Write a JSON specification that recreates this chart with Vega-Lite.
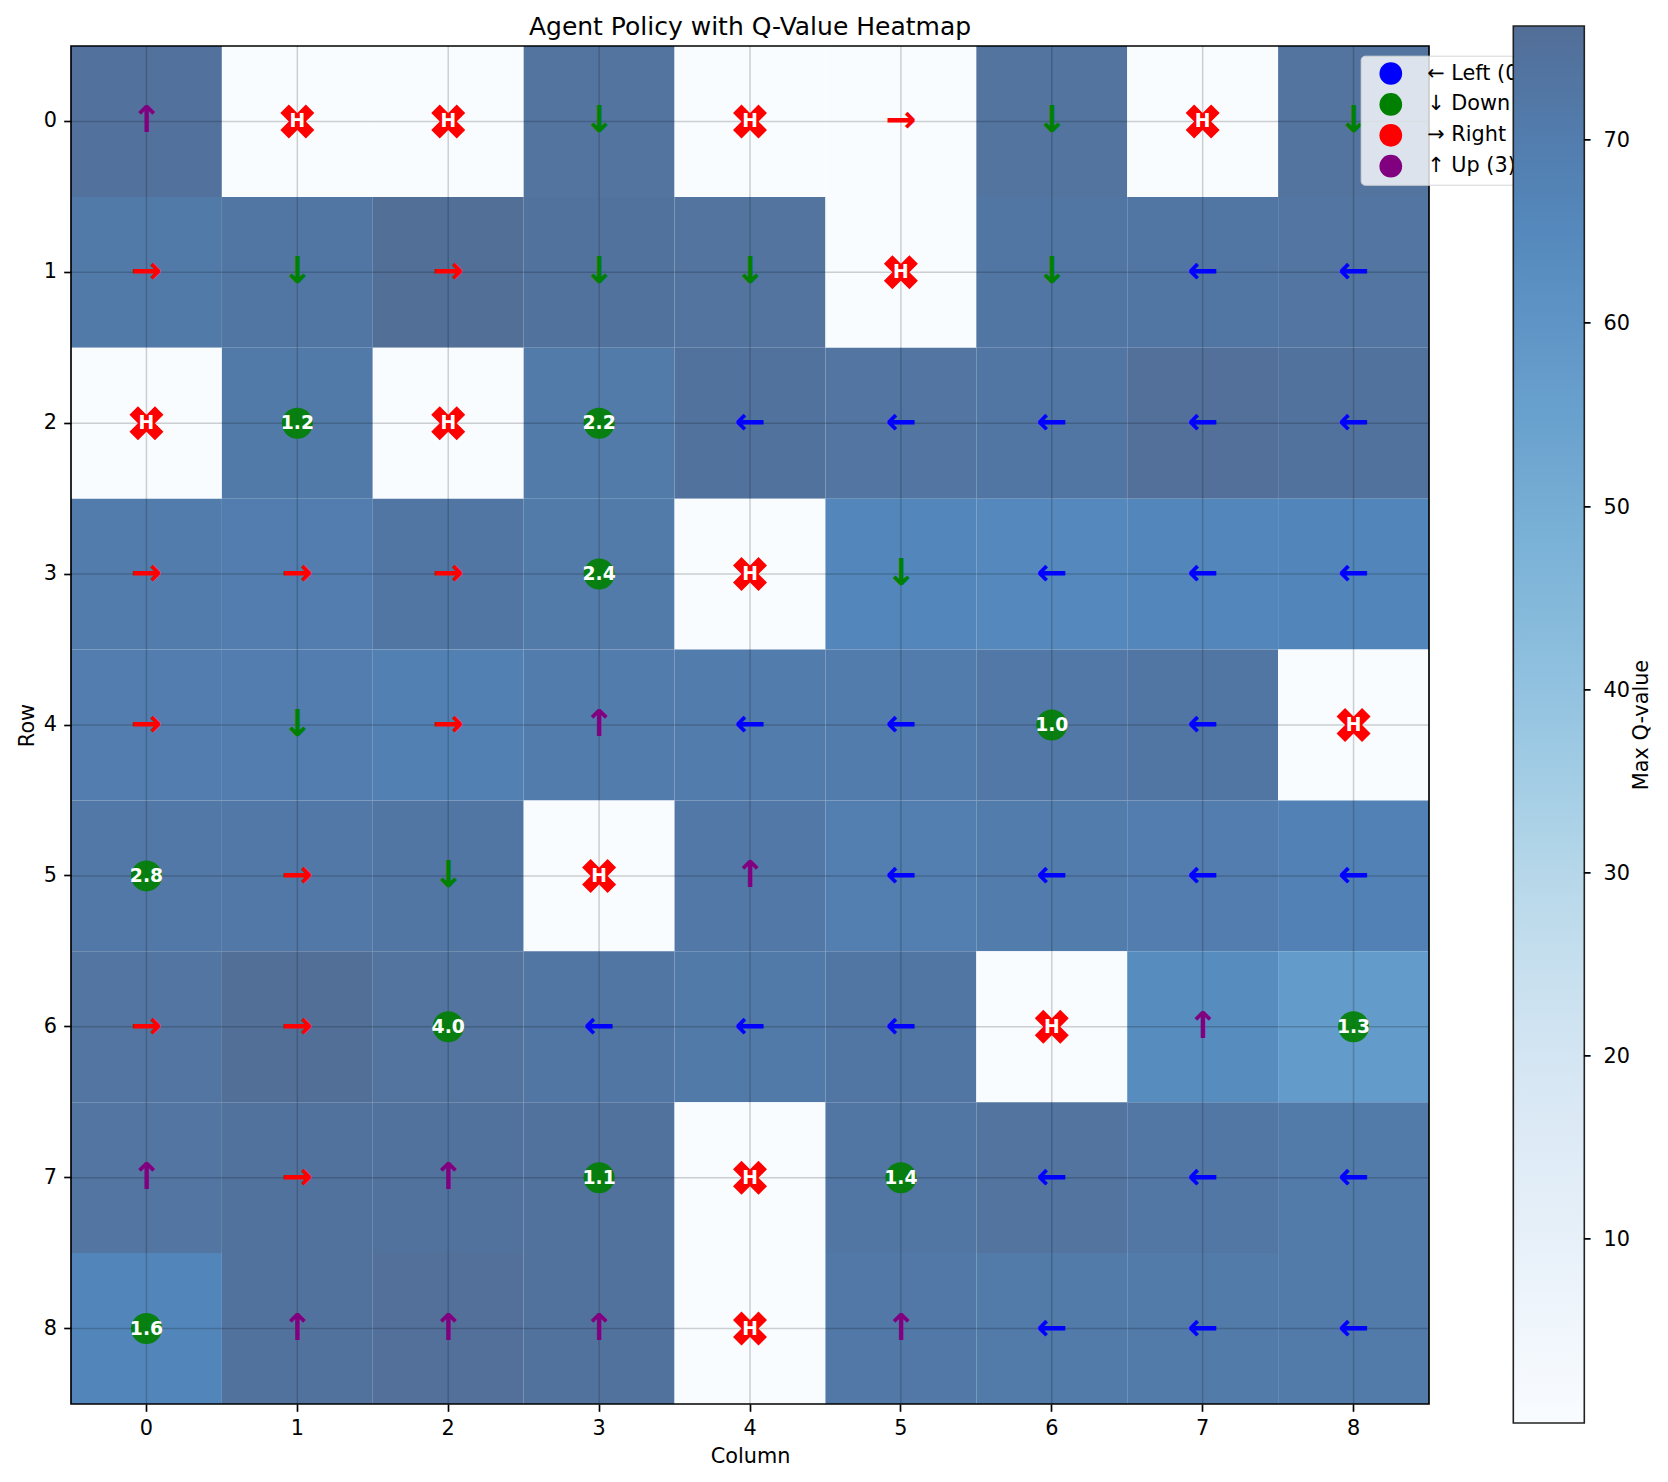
{
  "$schema": "https://vega.github.io/schema/vega-lite/v6.json",
  "width": 1358,
  "height": 1358,
  "autosize": {"type": "none"},
  "padding": {"left": 71, "top": 46, "right": 239, "bottom": 78},
  "background": "white",
  "title": {"text": "Agent Policy with Q-Value Heatmap", "fontSize": 25, "fontWeight": "normal", "font": "DejaVu Sans", "color": "black", "anchor": "middle", "frame": "group", "baseline": "alphabetic", "offset": -33.9},
  "config": {
    "font": "DejaVu Sans",
    "view": {"stroke": null},
    "axis": {"labelFont": "DejaVu Sans", "titleFont": "DejaVu Sans", "labelFontSize": 20.8, "titleFontSize": 20.8, "titleFontWeight": "normal", "labelColor": "black", "titleColor": "black", "tickColor": "black", "tickSize": 7.3, "tickWidth": 1.67, "labelPadding": 7.3, "domain": false, "grid": false, "bandPosition": 0.5},
    "legend": {"labelFont": "DejaVu Sans", "titleFont": "DejaVu Sans"}
  },
  "data": {"values": [
    {"row":0,"col":0,"q":75,"kind":"arrow","action":"↑ Up (3)","sym":"↑"},
    {"row":0,"col":1,"q":0,"kind":"hole","label":"H"},
    {"row":0,"col":2,"q":0,"kind":"hole","label":"H"},
    {"row":0,"col":3,"q":74,"kind":"arrow","action":"↓ Down (1)","sym":"↓"},
    {"row":0,"col":4,"q":0,"kind":"hole","label":"H"},
    {"row":0,"col":5,"q":0,"kind":"arrow","action":"→ Right (2)","sym":"→"},
    {"row":0,"col":6,"q":74,"kind":"arrow","action":"↓ Down (1)","sym":"↓"},
    {"row":0,"col":7,"q":0,"kind":"hole","label":"H"},
    {"row":0,"col":8,"q":74,"kind":"arrow","action":"↓ Down (1)","sym":"↓"},
    {"row":1,"col":0,"q":71.5,"kind":"arrow","action":"→ Right (2)","sym":"→"},
    {"row":1,"col":1,"q":73,"kind":"arrow","action":"↓ Down (1)","sym":"↓"},
    {"row":1,"col":2,"q":76,"kind":"arrow","action":"→ Right (2)","sym":"→"},
    {"row":1,"col":3,"q":74.5,"kind":"arrow","action":"↓ Down (1)","sym":"↓"},
    {"row":1,"col":4,"q":74,"kind":"arrow","action":"↓ Down (1)","sym":"↓"},
    {"row":1,"col":5,"q":0,"kind":"hole","label":"H"},
    {"row":1,"col":6,"q":73,"kind":"arrow","action":"↓ Down (1)","sym":"↓"},
    {"row":1,"col":7,"q":73,"kind":"arrow","action":"← Left (0)","sym":"←"},
    {"row":1,"col":8,"q":73.5,"kind":"arrow","action":"← Left (0)","sym":"←"},
    {"row":2,"col":0,"q":0,"kind":"hole","label":"H"},
    {"row":2,"col":1,"q":71.5,"kind":"circle","label":"1.2"},
    {"row":2,"col":2,"q":0,"kind":"hole","label":"H"},
    {"row":2,"col":3,"q":71,"kind":"circle","label":"2.2"},
    {"row":2,"col":4,"q":74.5,"kind":"arrow","action":"← Left (0)","sym":"←"},
    {"row":2,"col":5,"q":73.5,"kind":"arrow","action":"← Left (0)","sym":"←"},
    {"row":2,"col":6,"q":73,"kind":"arrow","action":"← Left (0)","sym":"←"},
    {"row":2,"col":7,"q":75.5,"kind":"arrow","action":"← Left (0)","sym":"←"},
    {"row":2,"col":8,"q":74.5,"kind":"arrow","action":"← Left (0)","sym":"←"},
    {"row":3,"col":0,"q":70.5,"kind":"arrow","action":"→ Right (2)","sym":"→"},
    {"row":3,"col":1,"q":70,"kind":"arrow","action":"→ Right (2)","sym":"→"},
    {"row":3,"col":2,"q":73,"kind":"arrow","action":"→ Right (2)","sym":"→"},
    {"row":3,"col":3,"q":71,"kind":"circle","label":"2.4"},
    {"row":3,"col":4,"q":0,"kind":"hole","label":"H"},
    {"row":3,"col":5,"q":66,"kind":"arrow","action":"↓ Down (1)","sym":"↓"},
    {"row":3,"col":6,"q":65,"kind":"arrow","action":"← Left (0)","sym":"←"},
    {"row":3,"col":7,"q":66,"kind":"arrow","action":"← Left (0)","sym":"←"},
    {"row":3,"col":8,"q":66.5,"kind":"arrow","action":"← Left (0)","sym":"←"},
    {"row":4,"col":0,"q":70,"kind":"arrow","action":"→ Right (2)","sym":"→"},
    {"row":4,"col":1,"q":70,"kind":"arrow","action":"↓ Down (1)","sym":"↓"},
    {"row":4,"col":2,"q":69,"kind":"arrow","action":"→ Right (2)","sym":"→"},
    {"row":4,"col":3,"q":70.5,"kind":"arrow","action":"↑ Up (3)","sym":"↑"},
    {"row":4,"col":4,"q":70.5,"kind":"arrow","action":"← Left (0)","sym":"←"},
    {"row":4,"col":5,"q":70.5,"kind":"arrow","action":"← Left (0)","sym":"←"},
    {"row":4,"col":6,"q":72,"kind":"circle","label":"1.0"},
    {"row":4,"col":7,"q":73,"kind":"arrow","action":"← Left (0)","sym":"←"},
    {"row":4,"col":8,"q":0,"kind":"hole","label":"H"},
    {"row":5,"col":0,"q":72,"kind":"circle","label":"2.8"},
    {"row":5,"col":1,"q":72,"kind":"arrow","action":"→ Right (2)","sym":"→"},
    {"row":5,"col":2,"q":73,"kind":"arrow","action":"↓ Down (1)","sym":"↓"},
    {"row":5,"col":3,"q":0,"kind":"hole","label":"H"},
    {"row":5,"col":4,"q":72,"kind":"arrow","action":"↑ Up (3)","sym":"↑"},
    {"row":5,"col":5,"q":69.5,"kind":"arrow","action":"← Left (0)","sym":"←"},
    {"row":5,"col":6,"q":70.5,"kind":"arrow","action":"← Left (0)","sym":"←"},
    {"row":5,"col":7,"q":70,"kind":"arrow","action":"← Left (0)","sym":"←"},
    {"row":5,"col":8,"q":68,"kind":"arrow","action":"← Left (0)","sym":"←"},
    {"row":6,"col":0,"q":73.5,"kind":"arrow","action":"→ Right (2)","sym":"→"},
    {"row":6,"col":1,"q":76,"kind":"arrow","action":"→ Right (2)","sym":"→"},
    {"row":6,"col":2,"q":74,"kind":"circle","label":"4.0"},
    {"row":6,"col":3,"q":73,"kind":"arrow","action":"← Left (0)","sym":"←"},
    {"row":6,"col":4,"q":71.5,"kind":"arrow","action":"← Left (0)","sym":"←"},
    {"row":6,"col":5,"q":73,"kind":"arrow","action":"← Left (0)","sym":"←"},
    {"row":6,"col":6,"q":0,"kind":"hole","label":"H"},
    {"row":6,"col":7,"q":64,"kind":"arrow","action":"↑ Up (3)","sym":"↑"},
    {"row":6,"col":8,"q":57.5,"kind":"circle","label":"1.3"},
    {"row":7,"col":0,"q":73.5,"kind":"arrow","action":"↑ Up (3)","sym":"↑"},
    {"row":7,"col":1,"q":74.5,"kind":"arrow","action":"→ Right (2)","sym":"→"},
    {"row":7,"col":2,"q":74.5,"kind":"arrow","action":"↑ Up (3)","sym":"↑"},
    {"row":7,"col":3,"q":74.5,"kind":"circle","label":"1.1"},
    {"row":7,"col":4,"q":0,"kind":"hole","label":"H"},
    {"row":7,"col":5,"q":73,"kind":"circle","label":"1.4"},
    {"row":7,"col":6,"q":74,"kind":"arrow","action":"← Left (0)","sym":"←"},
    {"row":7,"col":7,"q":72.5,"kind":"arrow","action":"← Left (0)","sym":"←"},
    {"row":7,"col":8,"q":71,"kind":"arrow","action":"← Left (0)","sym":"←"},
    {"row":8,"col":0,"q":66.5,"kind":"circle","label":"1.6"},
    {"row":8,"col":1,"q":74.5,"kind":"arrow","action":"↑ Up (3)","sym":"↑"},
    {"row":8,"col":2,"q":75.5,"kind":"arrow","action":"↑ Up (3)","sym":"↑"},
    {"row":8,"col":3,"q":74.5,"kind":"arrow","action":"↑ Up (3)","sym":"↑"},
    {"row":8,"col":4,"q":0,"kind":"hole","label":"H"},
    {"row":8,"col":5,"q":72,"kind":"arrow","action":"↑ Up (3)","sym":"↑"},
    {"row":8,"col":6,"q":71,"kind":"arrow","action":"← Left (0)","sym":"←"},
    {"row":8,"col":7,"q":71,"kind":"arrow","action":"← Left (0)","sym":"←"},
    {"row":8,"col":8,"q":71,"kind":"arrow","action":"← Left (0)","sym":"←"}
  ]},
  "encoding": {
    "x": {"field": "col", "type": "ordinal", "title": "Column", "scale": {"type": "band", "domain": [0,1,2,3,4,5,6,7,8], "paddingInner": 0, "paddingOuter": 0}, "axis": {"labelAngle": 0, "titlePadding": 8}},
    "y": {"field": "row", "type": "ordinal", "title": "Row", "scale": {"type": "band", "domain": [0,1,2,3,4,5,6,7,8], "paddingInner": 0, "paddingOuter": 0}, "axis": {"titlePadding": 6}}
  },
  "layer": [
    {
      "mark": {"type": "rect", "strokeWidth": 0},
      "encoding": {
        "color": {"field": "q", "type": "quantitative",
          "scale": {"domain": [0, 9.5375, 19.075, 28.6125, 38.15, 47.6875, 57.225, 66.7625, 76.3],
                    "range": ["#f9fcff", "#e8f1f9", "#d7e6f4", "#bbdaea", "#97c6e2", "#7bb3d7", "#649ccb", "#5285ba", "#526e97"],
                    "interpolate": "rgb"},
          "legend": {"type": "gradient", "orient": "none", "legendX": 1442.3, "legendY": -20, "direction": "vertical",
            "gradientLength": 1397, "gradientThickness": 71, "gradientStrokeColor": "#222222", "gradientStrokeWidth": 1.6,
            "padding": 0, "fillColor": "white", "zindex": 2,
            "values": [10, 20, 30, 40, 50, 60, 70], "labelExpr": "'╴ ' + datum.label",
            "labelFontSize": 20.8, "labelOffset": 0, "labelOverlap": false, "labelColor": "black",
            "title": "Max Q-value", "titleOrient": "right", "titleAnchor": "middle", "titleAlign": "center", "titleBaseline": "top",
            "titleFontSize": 20.8, "titleFontWeight": "normal", "titleColor": "black", "titlePadding": 2,
            "encode": {"title": {"update": {"angle": {"value": -90}}}}}
        }
      }
    },
    {
      "transform": [{"aggregate": [], "groupby": ["col"]}],
      "mark": {"type": "rule", "color": "black", "opacity": 0.18, "strokeWidth": 1.5},
      "encoding": {"x": {"field": "col", "type": "ordinal"}, "y": null}
    },
    {
      "transform": [{"aggregate": [], "groupby": ["row"]}],
      "mark": {"type": "rule", "color": "black", "opacity": 0.18, "strokeWidth": 1.5},
      "encoding": {"y": {"field": "row", "type": "ordinal"}, "x": null}
    },
    {
      "transform": [{"filter": {"field": "kind", "equal": "arrow"}}],
      "mark": {"type": "text", "font": "DejaVu Sans", "fontWeight": "bold", "fontSize": 37, "baseline": "middle", "align": "center"},
      "encoding": {
        "text": {"field": "sym"},
        "color": {"field": "action", "type": "nominal",
          "scale": {"domain": ["← Left (0)", "↓ Down (1)", "→ Right (2)", "↑ Up (3)"], "range": ["#0000ff", "#008000", "#ff0000", "#800080"]},
          "legend": {"orient": "none", "legendX": 1289.7, "legendY": 9.7, "title": null, "symbolType": "circle", "symbolSize": 515,
            "symbolStrokeWidth": 0, "symbolOpacity": 1, "symbolOffset": 12.3, "padding": 6.3, "labelOffset": 25, "rowPadding": 7.9,
            "labelFontSize": 20.8, "labelColor": "black", "labelLimit": 400, "fillColor": "rgba(255,255,255,0.8)",
            "strokeColor": "#d6d6d6", "cornerRadius": 4, "zindex": 1}
        }
      }
    },
    {
      "transform": [{"filter": {"field": "kind", "equal": "hole"}}],
      "mark": {"type": "point", "filled": true, "opacity": 1, "fill": "#ff0000", "strokeWidth": 0,
        "shape": "M-1,-0.5L-0.5,-1L0,-0.5L0.5,-1L1,-0.5L0.5,0L1,0.5L0.5,1L0,0.5L-0.5,1L-1,0.5L-0.5,0Z", "size": 1156}
    },
    {
      "transform": [{"filter": {"field": "kind", "equal": "hole"}}],
      "mark": {"type": "text", "font": "DejaVu Sans", "fontWeight": "bold", "fontSize": 18.75, "color": "white", "baseline": "middle", "align": "center"},
      "encoding": {"text": {"field": "label"}}
    },
    {
      "transform": [{"filter": {"field": "kind", "equal": "circle"}}],
      "mark": {"type": "point", "shape": "circle", "filled": true, "fill": "#008000", "opacity": 0.9, "strokeWidth": 0, "size": 961}
    },
    {
      "transform": [{"filter": {"field": "kind", "equal": "circle"}}],
      "mark": {"type": "text", "font": "DejaVu Sans", "fontWeight": "bold", "fontSize": 18.75, "color": "white", "baseline": "middle", "align": "center"},
      "encoding": {"text": {"field": "label"}}
    },
    {
      "data": {"values": [{}]},
      "mark": {"type": "rect", "filled": false, "stroke": "black", "strokeWidth": 1.67},
      "encoding": {"x": {"value": 0}, "x2": {"value": "width"}, "y": {"value": 0}, "y2": {"value": "height"}}
    }
  ],
  "resolve": {"scale": {"color": "independent"}, "legend": {"color": "independent"}}
}
